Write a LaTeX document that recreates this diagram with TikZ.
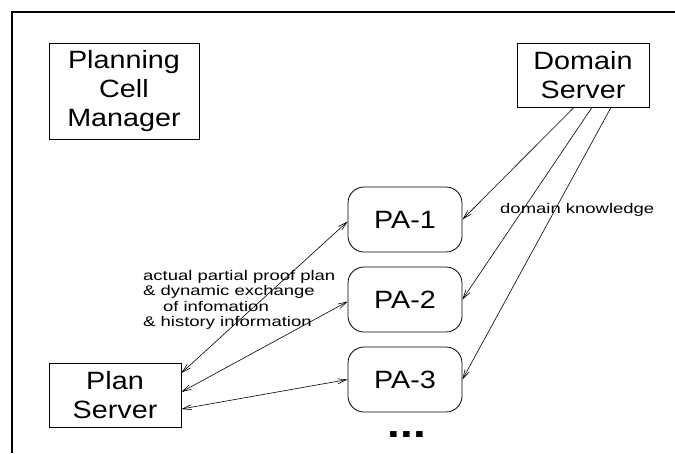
\documentclass[tikz,border=0pt]{standalone}
\usepackage{graphicx}
\usepackage{fontspec}
\setmainfont{Liberation Sans}
\usetikzlibrary{arrows.meta}
\newcommand\bigsx[1]{\scalebox{1.15}[1]{#1}}
\newcommand\smallsx[1]{\scalebox{1.32}[1]{#1}}
\begin{document}
\begin{tikzpicture}[x=1pt,y=-1pt,
  frame/.style={line width=2pt},
  boxnode/.style={draw, line width=0.8pt, inner sep=0pt, align=center,
    font=\fontsize{25}{29}\selectfont},
  panode/.style={boxnode, rounded corners=16pt, minimum width=114pt, minimum height=65pt},
  arr/.style={line width=0.6pt, -{Straight Barb[length=9pt,width=5pt]}},
  darr/.style={line width=0.6pt, {Straight Barb[length=9pt,width=5pt]}-{Straight Barb[length=9pt,width=5pt]}},
  lbl/.style={inner sep=0pt, font=\fontsize{14}{15.5}\selectfont}
]
\useasboundingbox (0,0) rectangle (675,453);
\draw[frame] (12,453) -- (12,11.5) -- (675,11.5);

\node[boxnode, minimum width=150pt, minimum height=96pt] (pcm) at (124,91)
  {\bigsx{Planning}\\\bigsx{Cell}\\\bigsx{Manager}};
\node[boxnode, minimum width=132pt, minimum height=64pt] (ds) at (583,75)
  {\bigsx{Domain}\\\bigsx{Server}};
\node[boxnode, minimum width=132pt, minimum height=64pt] (ps) at (115,395)
  {\bigsx{Plan}\\\bigsx{Server}};

\node[panode] (pa1) at (405,219.5) {\bigsx{PA-1}};
\node[panode] (pa2) at (405,299.5) {\bigsx{PA-2}};
\node[panode] (pa3) at (405,379.5) {\bigsx{PA-3}};

\node[inner sep=0pt, anchor=base, font=\fontsize{40}{44}\selectfont\bfseries] (dots) at (407,437) {\bigsx{...}};

\draw[arr] ([xshift=-9pt]ds.south) -- (pa1.east);
\draw[arr] ([xshift=9pt]ds.south) -- (pa2.east);
\draw[arr] ([xshift=28pt]ds.south) -- (pa3.east);

\draw[darr] ([yshift=-2pt]pa1.west) -- ([yshift=22pt]ps.east);
\draw[darr] ([yshift=-2pt]pa2.west) -- ([yshift=3pt]ps.east);
\draw[darr] (pa3.west) -- ([yshift=-14pt]ps.east);

\node[lbl, anchor=base west] (dk) at (500,213) {\smallsx{domain knowledge}};
\node[lbl, anchor=base west] (info) at (143,280) {\smallsx{\fontsize{14}{15.5}\selectfont\begin{tabular}[t]{@{}l@{}}actual partial proof plan\\ \& dynamic exchange\\ \hspace*{15pt}of infomation\\ \& history information\end{tabular}}};
\end{tikzpicture}
\end{document}
